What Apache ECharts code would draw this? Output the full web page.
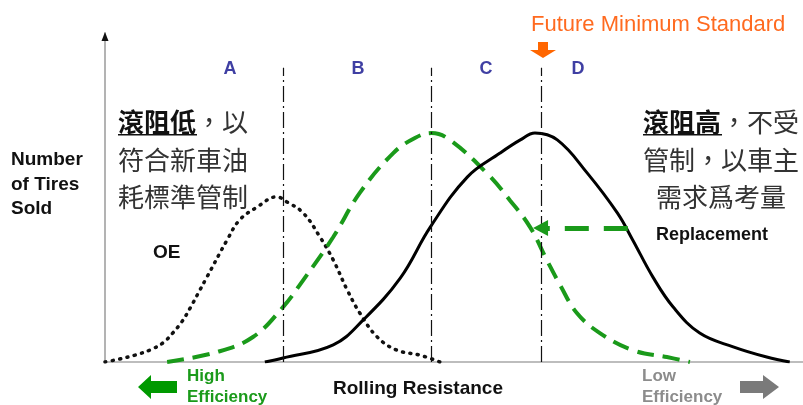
<!DOCTYPE html>
<html>
<head>
<meta charset="utf-8">
<script src="https://cdn.jsdelivr.net/npm/echarts@6/dist/echarts.min.js"></script>
<style>
html, body { margin: 0; padding: 0; background: #fff; }
#chart { width: 803px; height: 405px; }
</style>
</head>
<body>
<div id="chart"></div>
<script>
// Tire sales distribution over rolling resistance (both axes in arbitrary units, 0–100)
const oeCurve = [[0,0],[2.1,0.9],[4.3,2.1],[6.4,3.6],[8.3,5.8],[9.7,8.8],[11.0,12.2],[12.2,16.4],[13.6,21.9],[14.6,25.8],[17.5,37.1],[19.3,43.2],[21.8,47.1],[24.6,50.2],[26.1,48.6],[28.4,45.3],[30.8,38.0],[32.7,31.0],[34.7,21.9],[36.5,14.9],[39.0,7.6],[41.8,3.6],[45.1,2.1],[48.0,0]];
const futureCurve = [[8.9,0],[16.0,3.0],[21.2,7.6],[25.5,16.7],[28.4,24.9],[32.7,38.0],[36.5,51.4],[41.3,63.5],[44.4,68.1],[46.8,69.6],[49.4,67.5],[54.7,57.4],[58.0,49.2],[60.9,41.0],[63.3,31.0],[65.2,23.4],[67.6,14.9],[70.9,8.8],[75.6,3.6],[80.5,1.5],[83.8,0]];
const replacementCurve = [[22.9,0],[25.5,1.2],[32.7,5.2],[37.0,12.8],[42.3,25.5],[46.6,41.0],[51.9,56.2],[56.6,63.5],[59.5,67.5],[61.6,69.6],[64.8,67.5],[69.1,57.4],[73.4,45.3],[75.6,37.1],[78.5,25.8],[81.4,16.7],[85.2,8.8],[90.0,4.6],[94.8,1.5],[98.1,0]];
// Class boundaries A|B|C|D (last one is the future minimum standard)
const classBoundaries = [25.6, 46.8, 62.5];
const boundaryTop = 89.4;
const classNames = ['A', 'B', 'C', 'D'];
// Shift of replacement demand toward the standard
const shiftFrom = [74.9, 40.7];
const shiftTo = [62.4, 40.7];

const LAT = '"Liberation Sans", Arial, sans-serif';
const CJK = '"Noto Sans CJK TC", "Noto Sans CJK SC", sans-serif';

const chart = echarts.init(document.getElementById('chart'), null, { renderer: 'canvas' });

const boundaryLines = classBoundaries.map(x => [{ coord: [x, 0] }, { coord: [x, boundaryTop] }]);

function txt(x, y, text, font, fill, align, extra) {
  return Object.assign({
    type: 'text', x: x, y: y, silent: true,
    style: { text: text, font: font, fill: fill, align: align || 'left', verticalAlign: 'middle',
             textAlign: align || 'left', textVerticalAlign: 'middle' }
  }, extra || {});
}

const classLabelX = [230, 358, 486, 578];

const graphics = [
  // axis arrow head
  { type: 'polygon', silent: true, z: 10,
    shape: { points: [[105,32],[101.5,41],[108.5,41]] }, style: { fill: '#111' } },
  // future minimum standard
  txt(531, 25, 'Future Minimum Standard', '22px ' + LAT, '#ff6a1f'),
  { type: 'polygon', silent: true,
    shape: { points: [[538,42],[548,42],[548,50],[556,50],[543,58],[530,50],[538,50]] },
    style: { fill: '#ff6600' } },
  // left axis title
  txt(11, 160, 'Number', 'bold 19px ' + LAT, '#111'),
  txt(11, 185, 'of Tires', 'bold 19px ' + LAT, '#111'),
  txt(11, 209, 'Sold', 'bold 19px ' + LAT, '#111'),
  // series names
  txt(153, 253, 'OE', 'bold 19px ' + LAT, '#111'),
  txt(656, 235, 'Replacement', 'bold 18px ' + LAT, '#111'),
  // x axis title and efficiency hints
  txt(333, 389, 'Rolling Resistance', 'bold 19px ' + LAT, '#111'),
  txt(187, 376, 'High', 'bold 17px ' + LAT, '#1a9a1a'),
  txt(187, 397, 'Efficiency', 'bold 17px ' + LAT, '#1a9a1a'),
  txt(642, 376, 'Low', 'bold 17px ' + LAT, '#8c8c8c'),
  txt(642, 397, 'Efficiency', 'bold 17px ' + LAT, '#8c8c8c'),
  { type: 'polygon', silent: true,
    shape: { points: [[138,387],[151,375],[151,381],[177,381],[177,393],[151,393],[151,399]] },
    style: { fill: '#009900' } },
  { type: 'polygon', silent: true,
    shape: { points: [[740,381],[763,381],[763,375],[779,387],[763,399],[763,393],[740,393]] },
    style: { fill: '#7a7a7a' } },
  // low resistance note
  { type: 'text', x: 118, y: 122, silent: true,
    style: { text: '{b|滾阻低}{n|，以}', verticalAlign: 'middle', textVerticalAlign: 'middle',
      rich: { b: { font: 'bold 26px ' + CJK, fill: '#111' }, n: { font: '26px ' + CJK, fill: '#333' } } } },
  txt(118, 160, '符合新車油', '26px ' + CJK, '#333'),
  txt(118, 197, '耗標準管制', '26px ' + CJK, '#333'),
  { type: 'rect', silent: true, shape: { x: 118, y: 134, width: 79, height: 1.5 }, style: { fill: '#111' } },
  // high resistance note
  { type: 'text', x: 721, y: 122, silent: true,
    style: { text: '{b|滾阻高}{n|，不受}', align: 'center', textAlign: 'center', verticalAlign: 'middle', textVerticalAlign: 'middle',
      rich: { b: { font: 'bold 26px ' + CJK, fill: '#111' }, n: { font: '26px ' + CJK, fill: '#333' } } } },
  txt(721, 160, '管制，以車主', '26px ' + CJK, '#333', 'center'),
  txt(721, 197, '需求爲考量', '26px ' + CJK, '#333', 'center'),
  { type: 'rect', silent: true, shape: { x: 643, y: 134, width: 79, height: 1.5 }, style: { fill: '#111' } }
];
classNames.forEach((n, i) => graphics.push(txt(classLabelX[i], 69, n, 'bold 18px ' + LAT, '#3f3fa3', 'center')));

chart.setOption({
  animation: false,
  backgroundColor: '#fff',
  grid: { left: 105, right: 0, top: 33, bottom: 43 },
  xAxis: {
    type: 'value', min: 0, max: 100,
    axisLine: { show: true, lineStyle: { color: '#a8a8a8', width: 1.5 } },
    axisTick: { show: false }, axisLabel: { show: false }, splitLine: { show: false }
  },
  yAxis: {
    type: 'value', min: 0, max: 100,
    axisLine: { show: true, lineStyle: { color: '#9a9a9a', width: 1.5 } },
    axisTick: { show: false }, axisLabel: { show: false }, splitLine: { show: false }
  },
  series: [
    {
      name: 'OE', type: 'line', data: oeCurve, smooth: 0.4, showSymbol: false, symbol: 'none',
      lineStyle: { color: '#111', width: 3.5, type: [1, 6.5], cap: 'round' },
      markLine: {
        silent: true, symbol: ['none', 'none'], label: { show: false },
        lineStyle: { color: '#111', width: 1.2, type: [16, 4, 2, 4] },
        data: boundaryLines
      }
    },
    {
      name: 'Future', type: 'line', data: futureCurve, smooth: 0.4, showSymbol: false, symbol: 'none',
      lineStyle: { color: '#1a9a1a', width: 4, type: [17, 9] },
      markLine: {
        silent: true, symbol: ['none', 'triangle'], symbolSize: [16, 15], label: { show: false },
        lineStyle: { color: '#1a9a1a', width: 5, type: [24, 15] },
        data: [[{ coord: shiftFrom }, { coord: shiftTo }]]
      }
    },
    {
      name: 'Replacement', type: 'line', data: replacementCurve, smooth: 0.4, showSymbol: false, symbol: 'none',
      lineStyle: { color: '#000', width: 3 }
    }
  ],
  graphic: graphics
});
</script>
</body>
</html>
